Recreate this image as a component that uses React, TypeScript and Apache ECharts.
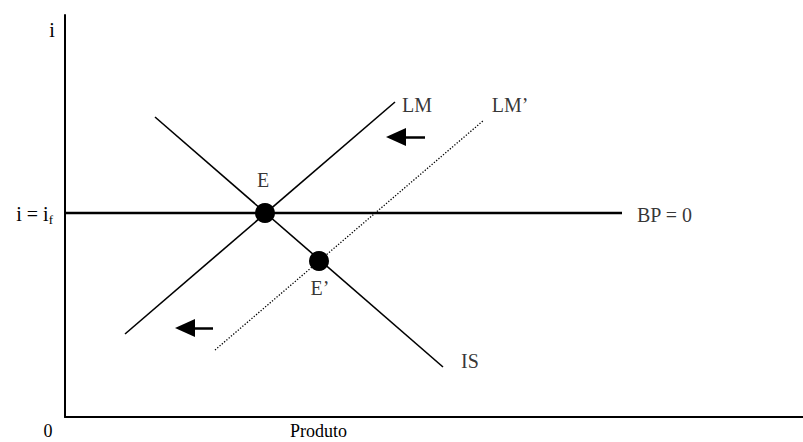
import React, { useEffect, useRef } from "react";
import * as echarts from "echarts";

// Conceptual IS-LM-BP diagram (arbitrary units: x = output, y = interest rate)
const lmCurve: number[][] = [[60, 83], [330, 315]];
const isCurve: number[][] = [[90, 300], [378, 50]];
const lmPrimeCurve: number[][] = [[150, 67], [419, 297]];
const bpCurve: number[][] = [[0, 204], [557, 204]];
const equilibria: number[][] = [[200, 204], [254, 156]];
// shift arrows: [headX, y, tailX]
const shiftArrows: number[][] = [[331, 280, 360], [120, 89, 148]];
// curve labels: [x, y, text, align]
const curveLabels: (number | string)[][] = [
  [352, 312, "LM", "center"],
  [445, 312, "LM’", "center"],
  [198, 237, "E", "center"],
  [255, 129, "E’", "center"],
  [405, 56, "IS", "center"],
  [572, 202, "BP = 0", "left"],
];
const X_MAX = 738;
const Y_MAX = 402;

const FONT = "'Liberation Serif', 'Times New Roman', serif";

export default function App() {
  const ref = useRef<HTMLDivElement>(null);
  useEffect(() => {
    if (!ref.current) return;
    const chart = echarts.init(ref.current, undefined, { renderer: "svg" });
    const black = "#000";
    const lineSeries = (name: string, data: number[][], width: number, type: any = "solid") => ({
      name,
      type: "line",
      data,
      symbol: "none",
      silent: true,
      lineStyle: { color: black, width, type },
      z: 2,
    });
    chart.setOption({
      animation: false,
      backgroundColor: "#fff",
      grid: { left: 65, right: 0, top: 15, bottom: 25 },
      xAxis: {
        type: "value",
        min: 0,
        max: X_MAX,
        axisLine: { show: true, onZero: false, lineStyle: { color: black, width: 2 } },
        axisTick: { show: false },
        axisLabel: { show: false },
        splitLine: { show: false },
      },
      yAxis: {
        type: "value",
        min: 0,
        max: Y_MAX,
        axisLine: { show: true, onZero: false, lineStyle: { color: black, width: 2 } },
        axisTick: { show: false },
        axisLabel: { show: false },
        splitLine: { show: false },
      },
      series: [
        lineSeries("BP", bpCurve, 2.5),
        lineSeries("LM", lmCurve, 1.6),
        lineSeries("IS", isCurve, 1.6),
        lineSeries("LM'", lmPrimeCurve, 1.3, [1.3, 1.7]),
        {
          name: "arrows",
          type: "line",
          data: [],
          symbol: "none",
          markLine: {
            silent: true,
            symbol: ["triangle", "none"],
            symbolSize: [18, 20],
            label: { show: false },
            lineStyle: { color: black, width: 2.5, type: "solid" },
            itemStyle: { color: black },
            data: shiftArrows.map((a) => [{ coord: [a[0], a[1]] }, { coord: [a[2], a[1]] }]),
          },
        },
        {
          name: "equilibria",
          type: "scatter",
          data: equilibria,
          symbol: "circle",
          symbolSize: 20,
          silent: true,
          itemStyle: { color: black, opacity: 1 },
          z: 5,
        },
        {
          name: "labels",
          type: "scatter",
          symbolSize: 0,
          silent: true,
          data: curveLabels.map((l) => ({
            value: [l[0], l[1]],
            label: {
              show: true,
              position: "inside",
              formatter: String(l[2]),
              align: l[3] as string,
              verticalAlign: "middle",
              color: black,
              fontSize: 20,
              fontFamily: FONT,
            },
          })),
          z: 6,
        },
      ],
      graphic: [
        {
          type: "text",
          x: 52,
          y: 30,
          style: { text: "i", fontSize: 20, fontFamily: FONT, fill: black, align: "center", verticalAlign: "middle" },
        },
        {
          type: "text",
          x: 53,
          y: 214,
          style: {
            text: "{a|i = i}{b|f}",
            fill: black,
            align: "right",
            verticalAlign: "middle",
            rich: {
              a: { fontSize: 20, fontFamily: FONT, fill: black },
              b: { fontSize: 13, fontFamily: FONT, fill: black, padding: [10, 0, 0, 0] },
            },
          },
        },
        {
          type: "text",
          x: 48,
          y: 431,
          style: { text: "0", fontSize: 18, fontFamily: FONT, fill: black, align: "center", verticalAlign: "middle" },
        },
        {
          type: "text",
          x: 290,
          y: 431,
          style: { text: "Produto", fontSize: 18, fontFamily: FONT, fill: black, align: "left", verticalAlign: "middle" },
        },
      ],
    });
    return () => chart.dispose();
  }, []);
  return (
    <div
      ref={ref}
      style={{ position: "absolute", left: 0, top: 0, width: 803, height: 442, background: "#fff" }}
    />
  );
}
